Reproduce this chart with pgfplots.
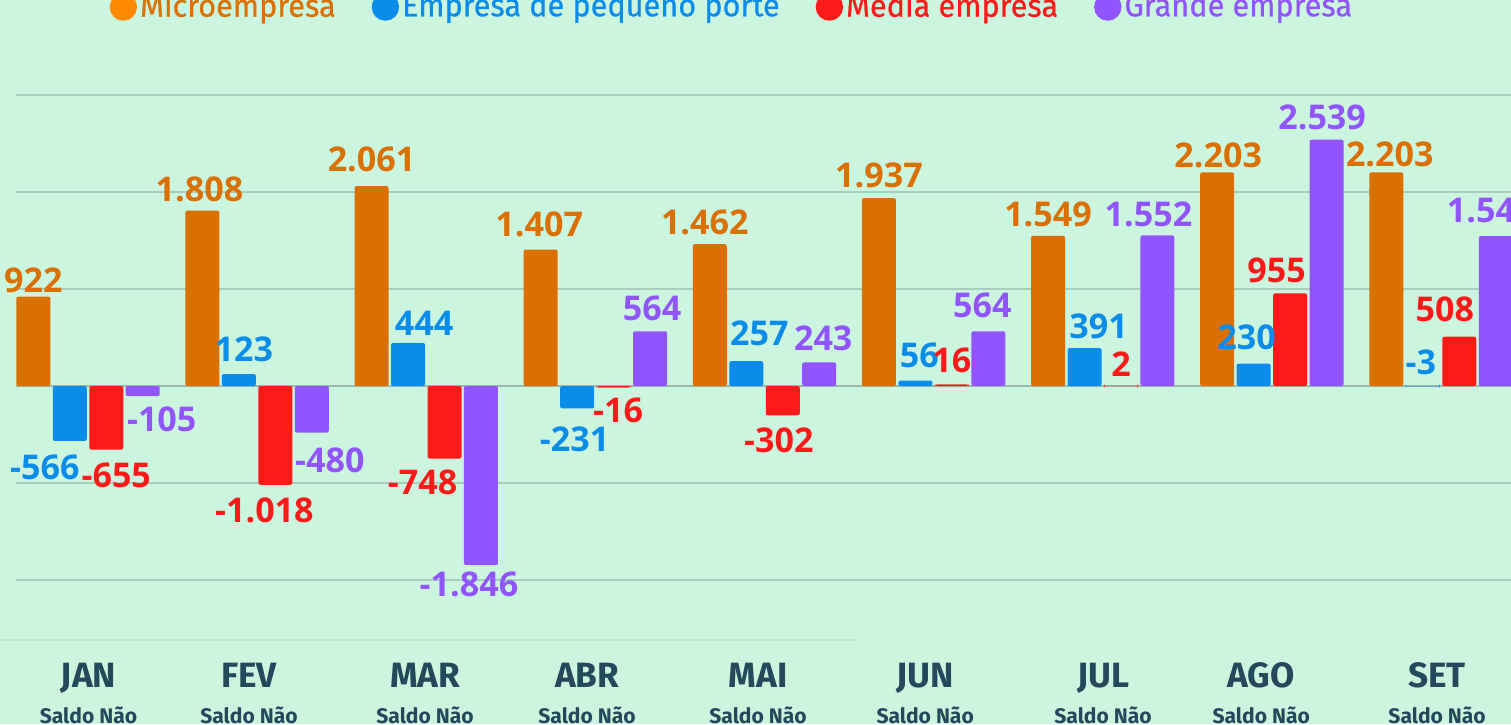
\documentclass[border=0pt]{standalone}
\usepackage{fontspec}
\setmainfont{Open Sans}
\newfontfamily\fira{Fira Sans}
\newfontfamily\firaleg{Fira Sans}[FakeBold=0.6, FakeStretch=0.97]
\usepackage{pgfplots}
\usepackage{pgfplotstable}
\pgfplotsset{compat=1.18}
\definecolor{bg}{HTML}{CCF5DF}
\definecolor{gridc}{HTML}{A9CEBB}
\definecolor{zeroc}{HTML}{9DB7AA}
\definecolor{microc}{HTML}{D97000}
\definecolor{microl}{HTML}{FF8A00}
\definecolor{peqc}{HTML}{0A8CEB}
\definecolor{medc}{HTML}{FF1A1A}
\definecolor{grac}{HTML}{9155FF}
\definecolor{monthc}{HTML}{23495A}
\definecolor{faint}{HTML}{C0E9D3}

\pgfplotstableread{
x y dx dy lab
0 922 0 16.6 922
1 1808 -3 21.6 1.808
2 2061 0 26.5 2.061
3 1407 -1.5 25.5 1.407
4 1462 -5 22 1.462
5 1937 0 23 1.937
6 1549 0 21.7 1.549
7 2203 1 17 2.203
8 2203 3.5 18 2.203
}\micro
\pgfplotstableread{
x y dx dy lab
0 -566 -25 -26 -566
1 123 5 25 123
2 444 16 20 444
3 -231 -2.5 -31 -231
4 257 13 27.6 257
5 56 4 25.6 56
6 391 14 22 391
7 230 -7 26 230
8 -3 -2 24.3 -3
}\peq
\pgfplotstableread{
x y dx dy lab
0 -655 10 -25.5 -655
1 -1018 -11 -26 -1.018
2 -748 -22 -24 -748
3 -16 4.5 -23 -16
4 -302 -4 -24.7 -302
5 16 0 24.4 16
6 2 0 21.3 2
7 955 -13.5 23 955
8 508 -14.5 27 508
}\med
\pgfplotstableread{
x y dx dy lab
0 -105 19 -23 -105
1 -480 18 -28 -480
2 -1846 -12 -19.5 -1.846
3 564 2 23 564
4 243 4 24 243
5 564 -6 26 564
6 1552 -9 21.5 1.552
7 2539 -4.5 22.7 2.539
8 1545 -5 26 1.545
}\gra

\newcommand{\numfont}{\fontsize{9.7}{10}\selectfont\bfseries}
\pgfplotsset{
  mybar/.style n args={2}{ybar, bar width=0.34cm, draw=none, fill=#1, rounded corners=0.02cm, forget plot,
    bar shift=#2*0.01cm,
    nodes near coords, point meta=explicit symbolic,
    visualization depends on={\thisrow{dx} \as \dx},
    visualization depends on={\thisrow{dy} \as \dy},
    every node near coord/.append style={anchor=center, inner sep=0pt,
      xshift=(\dx+#2)*0.01cm, yshift=\dy*0.01cm, font=\numfont, text=#1}},
}

\begin{document}
\begin{tikzpicture}
\useasboundingbox (0,0) rectangle (15.11cm,7.24cm);
\fill[bg] (0,0) rectangle (15.11cm,7.24cm);
\clip (0,0) rectangle (15.11cm,7.24cm);
\begin{axis}[
  at={(0.16cm,1.44cm)}, anchor=south west,
  scale only axis, width=14.97cm, height=4.85cm,
  xmin=-0.4258, xmax=8.4258, ymin=-2000, ymax=3000,
  clip=false,
  axis line style={draw=none},
  major tick length=0pt, tick style={draw=none},
  ytick={-2000,-1000,1000,2000,3000}, yticklabels={,,,,,},
  ymajorgrids, grid style={color=gridc, line width=0.015cm},
  extra y ticks={0}, extra y tick labels={,},
  extra y tick style={grid style={color=zeroc, line width=0.018cm}},
  xtick={0.003,0.952,1.993,2.951,3.962,4.950,6.002,6.937,7.977},
  xticklabels={JAN,FEV,MAR,ABR,MAI,JUN,JUL,AGO,SET},
  xticklabel style={anchor=base, yshift=-1.07cm, inner sep=0pt,
    font=\fira\bfseries\fontsize{10}{12}\selectfont, text=monthc},
  extra x ticks={0.003,0.952,1.993,2.951,3.962,4.950,6.002,6.937,7.977},
  extra x tick labels={Saldo Não,Saldo Não,Saldo Não,Saldo Não,Saldo Não,Saldo Não,Saldo Não,Saldo Não,Saldo Não},
  extra x tick style={xticklabel style={yshift=-0.365cm, font=\fira\bfseries\fontsize{6}{7}\selectfont}},
  legend columns=4,
  legend image code/.code={\fill (0.13cm,0cm) circle (0.13cm);},
  legend style={at={(0.0621,1.1814)}, anchor=west, draw=none, fill=none, inner sep=0pt,
    font=\firaleg\fontsize{9}{10}\selectfont, column sep=0pt,
    nodes={inner sep=0.03cm},
    /tikz/every even column/.append style={column sep=0.33cm}},
]
\addlegendimage{microl}\addlegendentry{\textcolor{microc}{Microempresa}}
\addlegendimage{peqc}\addlegendentry{\textcolor{peqc}{Empresa de pequeno porte}}
\addlegendimage{medc}\addlegendentry{\textcolor{medc}{Media empresa}}
\addlegendimage{grac}\addlegendentry{\textcolor{grac}{Grande empresa}}

\draw[faint, line width=0.02cm] (axis cs:-0.6,-2619) -- (axis cs:4.553,-2619);

\addplot[mybar={microc}{-54.75}] table[x=x,y=y,meta=lab]{\micro};
\addplot[mybar={peqc}{-18.25}] table[x=x,y=y,meta=lab]{\peq};
\addplot[mybar={medc}{18.25}] table[x=x,y=y,meta=lab]{\med};
\addplot[mybar={grac}{54.75}] table[x=x,y=y,meta=lab]{\gra};
\end{axis}
\end{tikzpicture}
\end{document}
